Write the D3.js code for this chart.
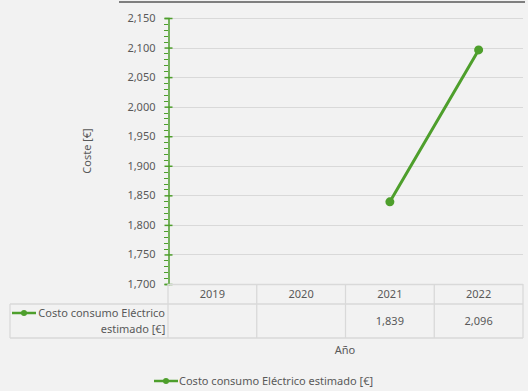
<!DOCTYPE html>
<html>
<head>
<meta charset="utf-8">
<script src="https://cdn.jsdelivr.net/npm/d3@7"></script>
<style>
  body { margin: 0; background: #f2f2f2; }
  svg { display: block; font-family: "Noto Sans", sans-serif; }
</style>
</head>
<body>
<div id="vis"></div>
<script>
var years = ['2019', '2020', '2021', '2022'];
var costs = [null, null, 1839, 2096];
var yTicks = [1700, 1750, 1800, 1850, 1900, 1950, 2000, 2050, 2100, 2150];
var seriesName = 'Costo consumo Eléctrico estimado [€]';

(function() {
  var W = 528, H = 391;
  var green = '#4e9f2c', textCol = '#595959', gridCol = '#d9d9d9';
  var fs = 11;
  var pLeft = 168, pRight = 523, pTop = 18, pBottom = 284;

  var svg = d3.select('#vis').append('svg').attr('width', W).attr('height', H);
  svg.append('rect').attr('width', W).attr('height', H).attr('fill', '#f2f2f2');

  // top rule
  svg.append('line').attr('x1', 119).attr('x2', 525).attr('y1', 2).attr('y2', 2)
    .attr('stroke', '#7f7f7f').attr('stroke-width', 2);

  var x = d3.scaleBand().domain(years).range([pLeft, pRight]);
  var y = d3.scaleLinear().domain([1700, 2150]).range([pBottom, pTop]);

  // gridlines
  svg.append('g').selectAll('line').data(yTicks.slice(1)).enter().append('line')
    .attr('x1', pLeft).attr('x2', pRight)
    .attr('y1', function(d) { return Math.round(y(d)) + 0.5; })
    .attr('y2', function(d) { return Math.round(y(d)) + 0.5; })
    .attr('stroke', gridCol).attr('stroke-width', 1);

  // minor ticks
  var minor = d3.range(1700, 2151, 10).filter(function(d) { return d % 50 !== 0; });
  svg.append('g').selectAll('line').data(minor).enter().append('line')
    .attr('x1', 164).attr('x2', pLeft)
    .attr('y1', function(d) { return Math.round(y(d)) + 0.5; })
    .attr('y2', function(d) { return Math.round(y(d)) + 0.5; })
    .attr('stroke', green).attr('stroke-width', 1);

  // y axis
  var yAxis = d3.axisLeft(y).tickValues(yTicks).tickSize(4).tickPadding(9)
    .tickFormat(d3.format(','));
  var ya = svg.append('g').attr('transform', 'translate(' + (pLeft + 0.5) + ',0)').call(yAxis);
  ya.select('.domain').attr('stroke', green).attr('stroke-width', 1.5);
  ya.selectAll('.tick line').attr('stroke', green).attr('x1', 4).attr('stroke-width', 1.5);
  ya.selectAll('.tick text').attr('fill', textCol).attr('font-size', fs)
    .attr('font-family', '"Noto Sans", sans-serif');

  svg.append('text').attr('transform', 'translate(91,' + ((pTop + pBottom) / 2) + ') rotate(-90)')
    .attr('text-anchor', 'middle').attr('fill', textCol).attr('font-size', fs)
    .text('Coste [€]');

  // data table
  var rowTop = pBottom, rowMid = 304, rowBot = 338;
  var tbl = svg.append('g').attr('stroke', gridCol).attr('stroke-width', 1.3);
  tbl.append('line').attr('x1', pLeft).attr('x2', pRight).attr('y1', rowTop + 0.5).attr('y2', rowTop + 0.5);
  tbl.append('line').attr('x1', 10).attr('x2', pRight).attr('y1', rowMid).attr('y2', rowMid);
  tbl.append('line').attr('x1', 10).attr('x2', pRight).attr('y1', rowBot).attr('y2', rowBot);
  tbl.append('line').attr('x1', 10).attr('x2', 10).attr('y1', rowMid).attr('y2', rowBot);
  tbl.selectAll('.v').data(years.concat(['end'])).enter().append('line')
    .attr('x1', function(d, i) { return i < years.length ? x(d) : pRight; })
    .attr('x2', function(d, i) { return i < years.length ? x(d) : pRight; })
    .attr('y1', rowTop)
    .attr('y2', rowBot);

  svg.append('g').selectAll('text').data(years).enter().append('text')
    .attr('x', function(d) { return x(d) + x.bandwidth() / 2; })
    .attr('y', 298).attr('text-anchor', 'middle').attr('fill', textCol).attr('font-size', fs)
    .text(function(d) { return d; });

  svg.append('g').selectAll('text').data(costs).enter().append('text')
    .attr('x', function(d, i) { return x(years[i]) + x.bandwidth() / 2; })
    .attr('y', 325).attr('text-anchor', 'middle').attr('fill', textCol).attr('font-size', fs)
    .text(function(d) { return d == null ? '' : d3.format(',')(d); });

  function legendKey(g, x0, x1, cy) {
    g.append('line').attr('x1', x0).attr('x2', x1).attr('y1', cy).attr('y2', cy)
      .attr('stroke', green).attr('stroke-width', 2.5);
    g.append('circle').attr('cx', (x0 + x1) / 2).attr('cy', cy).attr('r', 3).attr('fill', green);
  }
  // legend key in table
  legendKey(svg, 12, 36, 313);
  svg.append('text').attr('x', 165).attr('y', 317).attr('text-anchor', 'end')
    .attr('fill', textCol).attr('font-size', fs).text('Costo consumo Eléctrico');
  svg.append('text').attr('x', 133).attr('y', 333).attr('text-anchor', 'middle')
    .attr('fill', textCol).attr('font-size', fs).text('estimado [€]');

  svg.append('text').attr('x', 345).attr('y', 354).attr('text-anchor', 'middle')
    .attr('fill', textCol).attr('font-size', fs).text('Año');

  // series line
  var pts = costs.map(function(d, i) { return { year: years[i], v: d }; })
    .filter(function(d) { return d.v != null; });
  var line = d3.line()
    .x(function(d) { return x(d.year) + x.bandwidth() / 2; })
    .y(function(d) { return y(d.v); });
  svg.append('path').datum(pts).attr('d', line).attr('fill', 'none')
    .attr('stroke', green).attr('stroke-width', 3).attr('stroke-linecap', 'round');
  svg.append('g').selectAll('circle').data(pts).enter().append('circle')
    .attr('cx', function(d) { return x(d.year) + x.bandwidth() / 2; })
    .attr('cy', function(d) { return y(d.v); })
    .attr('r', 4.5).attr('fill', green);

  // bottom legend
  legendKey(svg, 154, 178, 381);
  svg.append('text').attr('x', 179).attr('y', 385).attr('fill', textCol).attr('font-size', fs)
    .text(seriesName);
})();
</script>
</body>
</html>
